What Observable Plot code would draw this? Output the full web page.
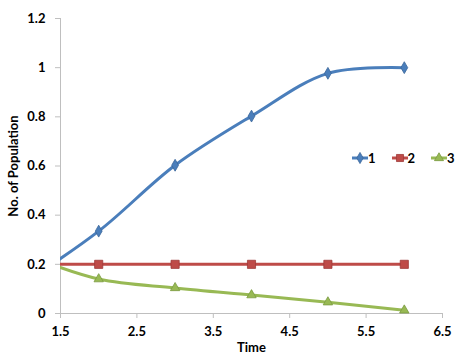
<!DOCTYPE html>
<html><head><meta charset="utf-8">
<script src="https://cdn.jsdelivr.net/npm/d3@7"></script>
<script src="https://cdn.jsdelivr.net/npm/@observablehq/plot@0.6"></script>
<style>
body{margin:0;background:#fff;}
#wrap{position:relative;width:474px;height:355px;font-family:Lato,"Open Sans",sans-serif;}
#legend{position:absolute;left:352px;top:150px;display:flex;gap:0;font:bold 13px Lato,sans-serif;color:#000;}
#legend .it{display:flex;align-items:center;margin-right:16px;}
#legend svg{display:block;}
</style></head>
<body><div id="wrap"></div>
<script>
const times = [1, 2, 3, 4, 5, 6];
const series1 = [0.12, 0.335, 0.603, 0.803, 0.977, 1.0];
const series2 = [0.2, 0.2, 0.2, 0.2, 0.2, 0.2];
const series3 = [0.245, 0.14, 0.104, 0.075, 0.046, 0.013];
const seriesNames = ["1", "2", "3"];
const colors = ["#4A7EBB", "#BE4B48", "#98B954"];
const strokes = ["#3A6699", "#9E3A38", "#7A9A40"];
const symbols = ["diamond", "square", "triangle"];
const xTicks = [1.5, 2.5, 3.5, 4.5, 5.5, 6.5];
const yTicks = [0, 0.2, 0.4, 0.6, 0.8, 1, 1.2];

const all = [series1, series2, series3];
const rows = [];
all.forEach((vals, i) => vals.forEach((v, j) => rows.push({series: seriesNames[i], time: times[j], value: v})));
const visible = rows.filter(d => d.time >= 1.5);

const marks = [
  Plot.axisY({ticks: yTicks, tickFormat: d => String(d), tickSize: 5, tickPadding: 10, stroke: "#BFBFBF",
    fontWeight: "bold", fontSize: 13, label: "No. of Population", labelAnchor: "center", labelOffset: 52, labelArrow: "none"}),
  Plot.axisX({ticks: xTicks, tickFormat: d => d.toFixed(1), tickSize: 5, tickPadding: 8, stroke: "#BFBFBF",
    fontWeight: "bold", fontSize: 13, label: "Time", labelAnchor: "center", labelOffset: 38, labelArrow: "none"}),
  Plot.ruleX([1.5], {stroke: "#BFBFBF"}),
  Plot.ruleY([0], {stroke: "#BFBFBF"}),
];
seriesNames.forEach((s, i) => {
  marks.push(Plot.line(rows.filter(d => d.series === s), {x: "time", y: "value", stroke: colors[i], strokeWidth: 3, curve: "catmull-rom", clip: true}));
});
const radii = [3.6, 4.6, 3.5];
seriesNames.forEach((s, i) => {
  marks.push(Plot.dot(visible.filter(d => d.series === s), {x: "time", y: "value", symbol: () => symbols[i], fill: colors[i], stroke: strokes[i], strokeWidth: 0.8, r: radii[i]}));
});

const chart = Plot.plot({
  width: 474, height: 355,
  marginLeft: 60, marginRight: 32, marginTop: 18, marginBottom: 42,
  style: {fontFamily: "Lato, 'Open Sans', sans-serif", background: "#fff", color: "#000"},
  x: {domain: [1.5, 6.5]},
  y: {domain: [0, 1.2]},
  symbol: {type: "identity"},
  marks
});
const wrap = document.getElementById("wrap");
wrap.appendChild(chart);

const legend = document.createElement("div");
legend.id = "legend";
seriesNames.forEach((s, i) => {
  const it = document.createElement("div");
  it.className = "it";
  const sym = d3.symbol(i === 0 ? d3.symbolDiamond : i === 1 ? d3.symbolSquare : d3.symbolTriangle, i === 1 ? 50 : 36)();
  it.innerHTML = `<svg width="16" height="16"><line x1="0" x2="16" y1="8" y2="8" stroke="${colors[i]}" stroke-width="3"/><path transform="translate(8,8)" d="${sym}" fill="${colors[i]}" stroke="${strokes[i]}" stroke-width="0.8"/></svg><span>${s}</span>`;
  legend.appendChild(it);
});
wrap.appendChild(legend);
</script></body></html>
